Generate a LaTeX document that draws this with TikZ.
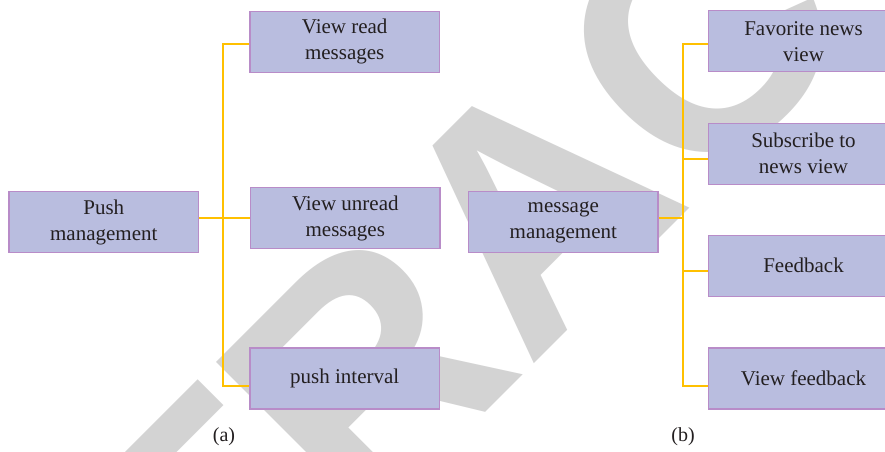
\documentclass[tikz,border=0pt]{standalone}
\usepackage{fontspec}
\setmainfont{Liberation Serif}
\newfontfamily\stampfont{Liberation Sans}
\definecolor{boxfill}{RGB}{185,189,223}
\definecolor{boxline}{RGB}{184,140,200}
\definecolor{linkline}{RGB}{255,192,0}
\definecolor{stampgray}{RGB}{211,211,211}
\definecolor{inkdark}{RGB}{35,31,32}
\tikzset{
  menubox/.style={draw=boxline, fill=boxfill, line width=1.4pt,
    minimum width=189.5pt, minimum height=61pt, inner sep=0pt,
    align=center, text=inkdark, font=\fontsize{21}{26}\selectfont},
  link/.style={draw=linkline, line width=1.7pt},
  caption/.style={text=inkdark, font=\fontsize{20}{24}\selectfont, inner sep=0pt}
}
\begin{document}
\begin{tikzpicture}[x=1pt,y=-1pt]
\useasboundingbox (0,0) rectangle (885,451);
\begin{scope}
\clip (0,0) rectangle (885,451);
\fill[white] (0,0) rectangle (885,451);
% stamp behind the chart
\node[rotate=45, inner sep=0pt, text=stampgray,
      font=\stampfont\bfseries\fontsize{328}{328}\selectfont] (stamp) at (532,206) {RETRACTED};

% (a) push management tree
\coordinate (la) at (223.3,44.3);
\coordinate (lb) at (223.3,218.3);
\coordinate (lc) at (223.3,385.7);
\node[menubox] (push) at (103.8,222.2) {Push\\management};
\node[menubox] (vr) at (344.7,41.7) {View read\\messages};
\node[menubox] (vu) at (345.3,218.2) {View unread\\messages};
\node[menubox] (pi) at (344.7,378.5) {push interval};
\draw[link] (vr.west |- la) -- (la) -- (lc) -- (pi.west |- lc);
\draw[link] (push.east |- lb) -- (vu.west |- lb);
\node[caption] (capa) at (224,437) {(a)};

% (b) message management tree
\coordinate (ra) at (682.7,44.3);
\coordinate (rb) at (682.7,159.3);
\coordinate (rm) at (682.7,218.3);
\coordinate (rc) at (682.7,271.3);
\coordinate (rd) at (682.7,385.7);
\node[menubox] (mm) at (563.3,222.2) {message\\management};
\node[menubox] (fav) at (803.5,41.2) {Favorite news\\view};
\node[menubox] (sub) at (803.5,153.7) {Subscribe to\\news view};
\node[menubox] (fb) at (803.5,265.7) {Feedback};
\node[menubox] (vf) at (803.5,378.3) {View feedback};
\draw[link] (fav.west |- ra) -- (ra) -- (rd) -- (vf.west |- rd);
\draw[link] (rb) -- (sub.west |- rb);
\draw[link] (rc) -- (fb.west |- rc);
\draw[link] (mm.east |- rm) -- (rm);
\node[caption] (capb) at (683,437) {(b)};
\end{scope}
\end{tikzpicture}
\end{document}
